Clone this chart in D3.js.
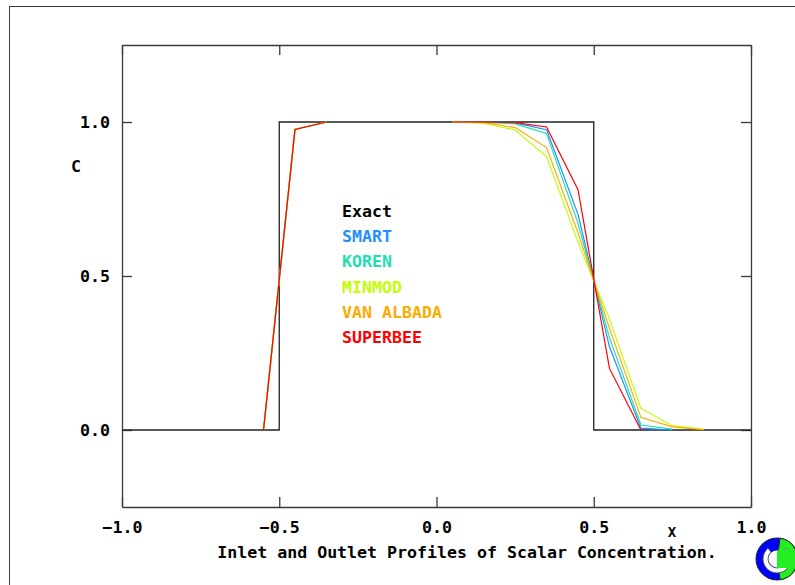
<!DOCTYPE html>
<html>
<head>
<meta charset="utf-8">
<script src="https://cdn.jsdelivr.net/npm/d3@7"></script>
<style>
  body { margin: 0; background: #fff; }
  text { font-family: "DejaVu Sans Mono", monospace; font-weight: bold; }
</style>
</head>
<body>
<div id="chart"></div>
<script>
// exact solution (square pulse)
const exactX = [-1.0, -0.5, -0.5, 0.5, 0.5, 1.0];
const exactC = [0.0, 0.0, 1.0, 1.0, 0.0, 0.0];

// inlet profile (same for every scheme)
const inletX = [-0.55, -0.45, -0.35];
const inletC = [0.0, 0.976, 1.0];

// outlet profiles, cell centres
const outletX = [0.05, 0.15, 0.25, 0.35, 0.45, 0.55, 0.65, 0.75, 0.85];
const smart     = [1.0, 1.0,   0.997, 0.975, 0.70, 0.27, 0.006, 0.0,   null];
const koren     = [1.0, 0.999, 0.994, 0.963, 0.67, 0.30, 0.016, 0.003, null];
const minmod    = [1.0, 0.996, 0.974, 0.888, 0.61, 0.36, 0.070, 0.014, 0.002];
const vanAlbada = [1.0, 0.998, 0.982, 0.917, 0.64, 0.33, 0.041, 0.010, 0.001];
const superbee  = [1.0, 1.0,   0.998, 0.984, 0.78, 0.20, 0.0,   null,  null];

const schemes = ["SMART", "KOREN", "MINMOD", "VAN ALBADA", "SUPERBEE"];
const schemeValues = [smart, koren, minmod, vanAlbada, superbee];
const schemeColors = ["#1e90ff", "#1ee0b0", "#c0ff00", "#ffaa00", "#ff0000"];

const xTicks = [-1.0, -0.5, 0.0, 0.5, 1.0];
const yTicks = [0.0, 0.5, 1.0];

const width = 795, height = 585;
const plotLeft = 122, plotRight = 751, plotTop = 45, plotBottom = 507;
const axisColor = "#3a3a3a";

const svg = d3.select("#chart").append("svg")
    .attr("width", width)
    .attr("height", height);

// outer frame
svg.append("rect")
    .attr("x", 9.5).attr("y", 6.5)
    .attr("width", 800).attr("height", 600)
    .attr("fill", "none")
    .attr("stroke", axisColor);

const x = d3.scaleLinear().domain([-1, 1]).range([plotLeft, plotRight]);
const y = d3.scaleLinear().domain([-0.25, 1.25]).range([plotBottom, plotTop]);

// axes with inward ticks
function styleAxis(g) {
    g.selectAll("path, line").attr("stroke", axisColor).attr("stroke-width", 1.3);
    g.selectAll("text")
        .attr("fill", "#000")
        .style("font-size", "16.6px")
        .style("font-family", "'DejaVu Sans Mono', monospace");
}

svg.append("g")
    .attr("transform", `translate(0,${plotBottom})`)
    .call(d3.axisBottom(x).tickValues(xTicks).tickSizeInner(-10).tickSizeOuter(0)
        .tickPadding(14).tickFormat(d3.format(".1f")))
    .call(styleAxis)
    .call(g => g.selectAll("text").text(d => d3.format(".1f")(d).replace("-", "\u2212")));

svg.append("g")
    .attr("transform", `translate(0,${plotTop})`)
    .call(d3.axisTop(x).tickValues(xTicks).tickSizeInner(-10).tickSizeOuter(0).tickFormat(""))
    .call(styleAxis);

svg.append("g")
    .attr("transform", `translate(${plotLeft},0)`)
    .call(d3.axisLeft(y).tickValues(yTicks).tickSizeInner(-10).tickSizeOuter(0)
        .tickPadding(12).tickFormat(d3.format(".1f")))
    .call(styleAxis);

svg.append("g")
    .attr("transform", `translate(${plotRight},0)`)
    .call(d3.axisRight(y).tickValues(yTicks).tickSizeInner(-10).tickSizeOuter(0).tickFormat(""))
    .call(styleAxis);

// exact solution
const line = d3.line()
    .defined(d => d[1] != null)
    .x(d => x(d[0]))
    .y(d => y(d[1]));

svg.append("path")
    .datum(d3.zip(exactX, exactC))
    .attr("fill", "none")
    .attr("stroke", "#222")
    .attr("stroke-width", 1.3)
    .attr("d", line);

// scheme profiles
schemes.forEach((name, i) => {
    const g = svg.append("g")
        .attr("fill", "none")
        .attr("stroke", schemeColors[i])
        .attr("stroke-width", 1.2);
    g.append("path").datum(d3.zip(inletX, inletC)).attr("d", line);
    g.append("path").datum(d3.zip(outletX, schemeValues[i])).attr("d", line);
});

// legend
const legendNames = ["Exact"].concat(schemes);
const legendColors = ["#000"].concat(schemeColors);
svg.append("g")
    .selectAll("text")
    .data(legendNames)
    .join("text")
    .attr("x", 342)
    .attr("y", (d, i) => 217 + i * 25.2)
    .attr("fill", (d, i) => legendColors[i])
    .style("font-size", "16.6px")
    .text(d => d);

// axis labels and title
svg.append("text")
    .attr("x", 76).attr("y", 172)
    .attr("text-anchor", "middle")
    .style("font-size", "16.6px")
    .text("C");

svg.append("text")
    .attr("x", 672).attr("y", 537)
    .attr("text-anchor", "middle")
    .style("font-size", "14px")
    .text("X");

svg.append("text")
    .attr("x", 467).attr("y", 558)
    .attr("text-anchor", "middle")
    .style("font-size", "16.6px")
    .text("Inlet and Outlet Profiles of Scalar Concentration.");

// logo
const logo = svg.append("g").attr("transform", "translate(777,559)");
logo.append("circle").attr("r", 21).attr("fill", "#0000ff").attr("stroke", "#222");
logo.append("path")
    .attr("d", d3.arc()({ innerRadius: 0, outerRadius: 21, startAngle: 0.15, endAngle: Math.PI - 0.15 }))
    .attr("fill", "#22ee22")
    .attr("stroke", "#222");
logo.append("path")
    .attr("d", d3.arc()({ innerRadius: 9, outerRadius: 14, startAngle: 0.7, endAngle: 2 * Math.PI - 0.7 }))
    .attr("fill", "#fff")
    .attr("stroke", "#555");
logo.append("circle").attr("r", 8.5).attr("fill", "#fff");
logo.append("rect").attr("x", 0).attr("y", -9).attr("width", 22).attr("height", 18).attr("fill", "#22ee22");
</script>
</body>
</html>
